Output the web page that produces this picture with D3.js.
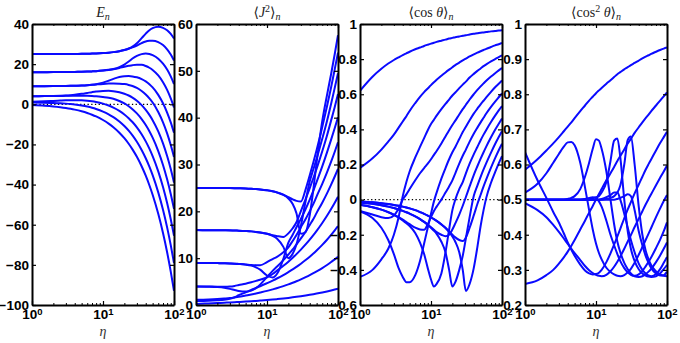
<!DOCTYPE html>
<html><head><meta charset="utf-8">
<script src="https://cdn.jsdelivr.net/npm/d3@7"></script>
<style>body{margin:0;background:#fff}</style>
</head><body>
<svg id="c" width="680" height="343"></svg>
<script>
// ---------- data ----------
const ETA = [1,1.5,2,2.5,3,3.5,4,5,6,7,8,10,12,14,17,20,23,26,30,35,40,45,50,60,70,80,90,100];
const ETA_FINE = [1,1.5,2,2.5,3,3.5,4,4.5,5,6,7,8,9,10,11,12,14,16,18,20,22,25,28,31,35,40,45,50,55,60,70,80,90,100];

// E_n
const E_0 = [-0.38,-0.71,-1.07,-1.45,-1.84,-2.24,-2.65,-3.48,-4.33,-5.19,-6.06,-7.83,-9.61,-11.42,-14.15,-16.9,-19.67,-22.46,-26.19,-30.88,-35.59,-40.32,-45.06,-54.59,-64.15,-73.74,-83.35,-92.94];
const E_1 = [0.92,0.82,0.69,0.52,0.33,0.12,-0.10,-0.60,-1.14,-1.72,-2.33,-3.62,-4.98,-6.39,-8.58,-10.84,-13.15,-15.51,-18.70,-22.77,-26.90,-31.09,-35.32,-43.89,-52.57,-61.34,-70.19,-79.10];
const E_2 = [1.29,1.5,1.69,1.84,1.95,2.01,2.02,1.95,1.76,1.48,1.13,0.32,-0.6,-1.62,-3.27,-5.05,-6.91,-8.84,-11.48,-14.93,-18.48,-22.13,-25.84,-33.45,-41.26,-49.21,-57.29,-65.48];
const E_3 = [4.03,4.07,4.11,4.16,4.21,4.24,4.26,4.25,4.2,4.1,3.96,3.6,3.25,2.75,1.65,0.4,-0.97,-2.44,-4.56,-7.38,-10.35,-13.45,-16.64,-23.29,-30.21,-37.35,-44.66,-52.12];
const E_4 = [4.03,4.07,4.14,4.24,4.37,4.55,4.75,5.21,5.66,6.05,6.35,6.67,6.69,6.51,6.01,5.28,4.38,3.34,1.77,-0.42,-2.81,-5.3,-7.9,-13.5,-19.5,-25.8,-32.3,-39.04];
const E_5 = [9.01,9.03,9.06,9.09,9.13,9.18,9.23,9.36,9.51,9.69,9.87,10.15,10.3,10.33,10.25,10.05,9.65,9.1,8.15,6.6,4.85,2.9,0.87,-3.85,-8.99,-14.48,-20.25,-26.24];
const E_6 = [9.01,9.03,9.06,9.09,9.13,9.18,9.23,9.37,9.54,9.75,10.03,10.8,11.75,12.65,13.6,14.0,14.05,13.9,13.45,12.55,11.4,10.0,8.4,4.7,0.5,-4.1,-9.0,-14.2];
const E_7 = [16.01,16.02,16.03,16.05,16.07,16.1,16.13,16.2,16.29,16.39,16.5,16.79,17.13,17.5,18.1,18.7,19.15,19.5,19.72,19.65,19.07,18.2,17.11,14.35,11.0,7.18,2.97,-1.55];
const E_8 = [16.01,16.02,16.03,16.05,16.07,16.1,16.13,16.2,16.29,16.39,16.5,16.8,17.16,17.61,18.53,19.8,21.3,22.8,24.1,25.0,25.3,25.1,24.5,22.7,20.2,17.3,13.9,10.1];
const E_9 = [25.0,25.01,25.02,25.03,25.05,25.06,25.08,25.13,25.18,25.25,25.32,25.5,25.73,25.99,26.46,27.02,27.65,28.34,29.29,30.5,31.3,31.6,31.7,31.0,29.5,27.4,24.8,21.8];
const E_10 = [25.0,25.01,25.02,25.03,25.05,25.06,25.08,25.13,25.18,25.25,25.32,25.5,25.73,25.99,26.46,27.05,27.8,28.75,30.4,32.95,35.2,36.9,37.95,38.65,38.1,36.85,35.05,32.8];

// <J^2>_n
const J_0 = [0.24,0.34,0.42,0.49,0.545,0.595,0.64,0.725,0.80,0.87,0.935,1.053,1.16,1.258,1.394,1.517,1.632,1.739,1.873,2.028,2.172,2.308,2.436,2.676,2.895,3.099,3.291,3.473];
const J_1 = [1.10,1.18,1.27,1.37,1.47,1.61,1.74,2.02,2.25,2.46,2.66,3.01,3.34,3.63,4.04,4.41,4.76,5.08,5.48,5.95,6.38,6.79,7.18,7.89,8.55,9.17,9.74,10.29];
const J_2 = [0.85,0.9,1.01,1.14,1.35,1.66,2.1,2.7,3.2,3.65,4.01,4.66,5.21,5.71,6.39,7.02,7.59,8.14,8.81,9.59,10.32,11.0,11.65,12.84,13.94,14.97,15.93,16.84];
const J_3 = [3.97,3.94,3.91,3.9,3.94,4.07,4.26,4.55,4.86,5.15,5.4,5.9,6.61,7.4,8.37,9.26,10.1,10.87,11.83,12.93,13.95,14.91,15.81,17.5,19.04,20.48,21.83,23.1];
const J_4 = [3.96,3.91,3.82,3.67,3.44,3.19,2.99,2.86,3.08,3.6,4.35,5.97,7.29,8.26,9.58,10.78,11.86,12.96,14.22,15.65,17.1,18.35,19.67,21.85,23.84,25.7,27.44,29.08];
const J_5 = [8.98,8.97,8.95,8.91,8.87,8.83,8.77,8.66,8.55,8.5,8.49,9.15,9.82,10.33,11.27,12.33,13.68,14.95,16.61,18.36,20.05,21.58,23.19,25.87,28.32,30.6,32.73,34.75];
const J_6 = [8.98,8.97,8.95,8.91,8.87,8.82,8.76,8.62,8.4,8.03,7.55,6.3,5.87,6.77,9.86,13.3,15.0,16.6,18.4,20.5,22.5,24.4,26.3,29.6,32.6,35.3,37.8,40.1];
const J_7 = [15.99,15.98,15.97,15.95,15.93,15.9,15.87,15.8,15.72,15.61,15.48,15.21,14.91,14.7,14.53,15.3,16.39,17.68,20.02,22.63,24.95,27.11,29.11,32.83,36.2,39.42,42.3,45.05];
const J_8 = [15.99,15.98,15.97,15.96,15.95,15.9,15.87,15.8,15.72,15.6,15.47,15.2,14.76,14.11,12.41,10.0,10.95,12.92,16.9,22.2,26.42,28.97,31.25,35.48,39.31,42.98,46.39,49.5];
const J_9 = [24.99,24.99,24.98,24.97,24.96,24.94,24.92,24.88,24.82,24.75,24.67,24.49,24.28,24.01,23.57,23.02,22.54,22.23,22.09,24.7,27.7,30.5,33.1,38.0,42.45,46.5,50.36,53.9];
const J_10 = [24.99,24.99,24.98,24.97,24.96,24.94,24.92,24.88,24.82,24.75,24.67,24.49,24.28,24.0,23.49,22.75,21.57,19.61,15.2,15.6,19.2,24.75,30.45,39.25,44.82,49.33,53.59,57.6];

// <cos theta>_n
const C_0 = [0.62,0.70,0.745,0.775,0.795,0.81,0.823,0.833,0.842,0.856,0.866,0.875,0.882,0.888,0.893,0.898,0.905,0.911,0.917,0.921,0.925,0.929,0.933,0.936,0.94,0.944,0.947,0.95,0.952,0.954,0.958,0.96,0.963,0.965];
const C_1 = [0.18,0.235,0.285,0.33,0.37,0.41,0.445,0.475,0.505,0.55,0.585,0.612,0.633,0.652,0.668,0.682,0.705,0.724,0.74,0.754,0.766,0.78,0.793,0.803,0.815,0.827,0.837,0.845,0.852,0.858,0.869,0.878,0.885,0.892];
const C_2 = [-0.44,-0.40,-0.34,-0.28,-0.2,-0.1,0.02,0.1,0.16,0.24,0.3,0.35,0.395,0.43,0.455,0.478,0.515,0.545,0.57,0.593,0.61,0.635,0.655,0.672,0.695,0.716,0.733,0.747,0.76,0.77,0.787,0.8,0.812,0.822];
const C_3 = [-0.065,-0.085,-0.1,-0.105,-0.09,-0.05,0.0,0.03,0.06,0.11,0.15,0.18,0.205,0.23,0.255,0.277,0.32,0.36,0.395,0.425,0.45,0.485,0.515,0.54,0.57,0.6,0.625,0.645,0.662,0.677,0.701,0.72,0.736,0.75];
const C_4 = [-0.067,-0.105,-0.16,-0.23,-0.31,-0.39,-0.44,-0.47,-0.47,-0.43,-0.35,-0.25,-0.16,-0.08,-0.01,0.04,0.12,0.18,0.23,0.27,0.30,0.345,0.385,0.415,0.452,0.49,0.518,0.543,0.563,0.582,0.614,0.64,0.66,0.678];
const C_5 = [-0.029,-0.043,-0.057,-0.071,-0.086,-0.1,-0.114,-0.128,-0.14,-0.16,-0.17,-0.172,-0.14,-0.1,-0.065,-0.04,0.0,0.04,0.075,0.11,0.15,0.205,0.25,0.285,0.33,0.375,0.41,0.44,0.466,0.49,0.528,0.558,0.583,0.605];
const C_6 = [-0.029,-0.043,-0.057,-0.072,-0.087,-0.102,-0.118,-0.134,-0.15,-0.19,-0.245,-0.31,-0.39,-0.455,-0.495,-0.48,-0.42,-0.3,-0.17,-0.06,0.0,0.06,0.1,0.15,0.205,0.258,0.3,0.338,0.37,0.397,0.442,0.478,0.508,0.533];
const C_7 = [-0.016,-0.024,-0.032,-0.04,-0.048,-0.056,-0.064,-0.072,-0.08,-0.095,-0.111,-0.127,-0.143,-0.158,-0.172,-0.185,-0.2,-0.208,-0.2,-0.17,-0.135,-0.085,-0.035,0.015,0.075,0.14,0.19,0.233,0.27,0.302,0.355,0.398,0.432,0.462];
const C_8 = [-0.016,-0.024,-0.032,-0.04,-0.048,-0.056,-0.064,-0.072,-0.08,-0.095,-0.111,-0.127,-0.143,-0.16,-0.177,-0.195,-0.24,-0.3,-0.4,-0.495,-0.47,-0.4,-0.32,-0.22,-0.1,0.02,0.08,0.13,0.172,0.208,0.268,0.317,0.357,0.39];
const C_9 = [-0.01,-0.015,-0.02,-0.025,-0.03,-0.035,-0.04,-0.045,-0.05,-0.06,-0.071,-0.081,-0.091,-0.101,-0.111,-0.121,-0.141,-0.16,-0.18,-0.2,-0.215,-0.23,-0.236,-0.215,-0.16,-0.09,-0.025,0.028,0.075,0.115,0.182,0.236,0.281,0.318];
const C_10 = [-0.01,-0.015,-0.02,-0.025,-0.03,-0.035,-0.04,-0.045,-0.05,-0.06,-0.071,-0.081,-0.091,-0.101,-0.111,-0.121,-0.142,-0.162,-0.185,-0.21,-0.24,-0.3,-0.4,-0.52,-0.48,-0.39,-0.27,-0.15,-0.06,0.01,0.096,0.156,0.206,0.248];

// <cos^2 theta>_n
const Q_0 = [0.585,0.615,0.64,0.66,0.678,0.694,0.708,0.72,0.732,0.752,0.768,0.782,0.793,0.803,0.811,0.818,0.83,0.84,0.849,0.857,0.863,0.871,0.877,0.883,0.889,0.896,0.902,0.907,0.911,0.915,0.921,0.926,0.93,0.933];
const Q_1 = [0.26,0.27,0.285,0.3,0.318,0.335,0.352,0.369,0.385,0.415,0.44,0.463,0.482,0.5,0.516,0.53,0.555,0.575,0.593,0.61,0.624,0.643,0.66,0.673,0.69,0.706,0.72,0.732,0.742,0.752,0.768,0.782,0.794,0.805];
const Q_2 = [0.635,0.555,0.505,0.465,0.435,0.405,0.378,0.357,0.34,0.315,0.298,0.29,0.287,0.288,0.292,0.3,0.322,0.347,0.372,0.395,0.417,0.447,0.472,0.493,0.518,0.543,0.565,0.585,0.601,0.615,0.64,0.661,0.678,0.693];
const Q_3 = [0.49,0.47,0.45,0.428,0.408,0.39,0.374,0.36,0.348,0.328,0.311,0.299,0.291,0.286,0.283,0.282,0.286,0.296,0.309,0.323,0.338,0.36,0.381,0.399,0.422,0.446,0.467,0.486,0.502,0.516,0.541,0.562,0.58,0.597];
const Q_4 = [0.52,0.545,0.575,0.605,0.63,0.65,0.663,0.664,0.655,0.605,0.535,0.47,0.415,0.375,0.348,0.33,0.306,0.294,0.287,0.283,0.282,0.285,0.293,0.303,0.32,0.343,0.365,0.385,0.403,0.42,0.45,0.475,0.496,0.513];
const Q_5 = [0.5,0.5,0.5,0.5,0.5,0.5,0.5,0.5,0.5,0.5,0.502,0.505,0.507,0.505,0.495,0.48,0.44,0.4,0.37,0.345,0.325,0.305,0.293,0.286,0.283,0.287,0.297,0.31,0.323,0.336,0.362,0.386,0.41,0.435];
const Q_6 = [0.5,0.5,0.5,0.5,0.5,0.5,0.502,0.505,0.51,0.53,0.565,0.605,0.645,0.672,0.668,0.645,0.58,0.5,0.43,0.38,0.35,0.32,0.302,0.29,0.282,0.28,0.282,0.288,0.295,0.303,0.322,0.341,0.36,0.378];
const Q_7 = [0.5,0.5,0.5,0.5,0.5,0.5,0.5,0.5,0.5,0.5,0.5,0.5,0.5,0.5,0.5,0.502,0.507,0.513,0.52,0.52,0.5,0.46,0.42,0.385,0.35,0.318,0.3,0.29,0.284,0.282,0.288,0.302,0.32,0.337];
const Q_8 = [0.5,0.5,0.5,0.5,0.5,0.5,0.5,0.5,0.5,0.5,0.5,0.502,0.504,0.507,0.51,0.52,0.55,0.61,0.668,0.674,0.62,0.5,0.41,0.36,0.325,0.302,0.29,0.284,0.281,0.28,0.282,0.29,0.302,0.314];
const Q_9 = [0.5,0.5,0.5,0.5,0.5,0.5,0.5,0.5,0.5,0.5,0.5,0.5,0.5,0.5,0.5,0.5,0.5,0.5,0.5,0.502,0.505,0.51,0.515,0.51,0.47,0.41,0.37,0.34,0.32,0.305,0.29,0.284,0.285,0.295];
const Q_10 = [0.5,0.5,0.5,0.5,0.5,0.5,0.5,0.5,0.5,0.5,0.5,0.5,0.5,0.5,0.5,0.5,0.502,0.505,0.51,0.52,0.54,0.6,0.67,0.68,0.6,0.48,0.4,0.355,0.33,0.313,0.296,0.287,0.283,0.282];

// axes ticks
const X_TICKS = [1, 10, 100];
const X_MINOR = [2,3,4,5,6,7,8,9,20,30,40,50,60,70,80,90];
const Y_TICKS_E = [-100,-80,-60,-40,-20,0,20,40];
const Y_TICKS_J = [0,10,20,30,40,50,60];
const Y_TICKS_C = [-0.6,-0.4,-0.2,0,0.2,0.4,0.6,0.8,1];
const Y_TICKS_Q = [0.2,0.3,0.4,0.5,0.6,0.7,0.8,0.9,1];

// ---------- drawing ----------
const svg = d3.select("#c");
const W = 142, TOP = 24, BOT = 305;
const LINE_COLOR = "#0a0aff";
const numFmt = d => (d < 0 ? "\u2212" : "") + String(Math.abs(+d.toFixed(2)));

const panels = [
  {left:32,  dom:[-100,40], ticks:Y_TICKS_E, grid:ETA, series:[E_0,E_1,E_2,E_3,E_4,E_5,E_6,E_7,E_8,E_9,E_10], zero:true, title:"E"},
  {left:196, dom:[0,60],    ticks:Y_TICKS_J, grid:ETA, series:[J_0,J_1,J_2,J_3,J_4,J_5,J_6,J_7,J_8,J_9,J_10], zero:false, title:"J"},
  {left:360, dom:[-0.6,1],  ticks:Y_TICKS_C, grid:ETA_FINE, series:[C_0,C_1,C_2,C_3,C_4,C_5,C_6,C_7,C_8,C_9,C_10], zero:true, title:"C"},
  {left:525, dom:[0.2,1],   ticks:Y_TICKS_Q, grid:ETA_FINE, series:[Q_0,Q_1,Q_2,Q_3,Q_4,Q_5,Q_6,Q_7,Q_8,Q_9,Q_10], zero:false, title:"Q"}
];

const defs = svg.append("defs");
const LABEL_FONT = "'Liberation Sans', Arial, sans-serif";
const SERIF = "'Liberation Serif', 'DejaVu Serif', serif";

panels.forEach((p, pi) => {
  const L = p.left;
  const x = d3.scaleLog().domain([1,100]).range([L, L+W]);
  const y = d3.scaleLinear().domain(p.dom).range([BOT, TOP]);
  const g = svg.append("g");

  defs.append("clipPath").attr("id","clip"+pi)
    .append("rect").attr("x",L).attr("y",TOP).attr("width",W).attr("height",BOT-TOP);

  if (p.zero) {
    g.append("line").attr("x1",x(1)).attr("x2",x(100)).attr("y1",y(0)).attr("y2",y(0))
      .attr("stroke","#000").attr("stroke-width",1.3).attr("stroke-dasharray","1.3,2.4");
  }

  const line = d3.line().x((d,i)=>x(p.grid[i])).y(d=>y(d)).curve(d3.curveMonotoneX);
  g.append("g").attr("clip-path","url(#clip"+pi+")")
    .selectAll("path").data(p.series).join("path")
    .attr("d", line).attr("fill","none").attr("stroke",LINE_COLOR)
    .attr("stroke-width",2).attr("stroke-linejoin","round");

  const styleAxis = sel => {
    sel.select(".domain").attr("stroke","#000").attr("stroke-width",2);
    sel.selectAll(".tick line").attr("stroke","#000").attr("stroke-width",1.2);
  };
  const left = g.append("g").attr("transform",`translate(${L},0)`)
    .call(d3.axisLeft(y).tickValues(p.ticks).tickSizeInner(-4).tickSizeOuter(0).tickPadding(3).tickFormat(numFmt));
  styleAxis(left);
  left.attr("font-family",LABEL_FONT).attr("font-size",13.5).attr("font-weight","bold");
  left.selectAll(".tick text").attr("fill","#000");

  const right = g.append("g").attr("transform",`translate(${L+W},0)`)
    .call(d3.axisRight(y).tickValues(p.ticks).tickSizeInner(-4).tickSizeOuter(0).tickFormat(""));
  styleAxis(right);

  const top = g.append("g").attr("transform",`translate(0,${TOP})`)
    .call(d3.axisTop(x).tickValues(X_TICKS).tickSizeInner(-4).tickSizeOuter(0).tickFormat(""));
  styleAxis(top);
  const topMinor = g.append("g").attr("transform",`translate(0,${TOP})`)
    .call(d3.axisTop(x).tickValues(X_MINOR).tickSizeInner(-2).tickSizeOuter(0).tickFormat(""));
  topMinor.select(".domain").remove();
  topMinor.selectAll(".tick line").attr("stroke","#000").attr("stroke-width",1);

  const bottom = g.append("g").attr("transform",`translate(0,${BOT})`)
    .call(d3.axisBottom(x).tickValues(X_TICKS).tickSizeInner(-4).tickSizeOuter(0).tickPadding(4).tickFormat(d => String(Math.round(Math.log10(d)))));
  styleAxis(bottom);
  bottom.attr("font-family",LABEL_FONT).attr("font-size",13.5).attr("font-weight","bold");
  bottom.selectAll(".tick text").each(function(d){
    const t = d3.select(this);
    const e = t.text();
    t.text("").attr("fill","#000");
    t.append("tspan").text("10");
    t.append("tspan").attr("dy","-0.42em").attr("font-size",9.5).text(e);
  });
  const bottomMinor = g.append("g").attr("transform",`translate(0,${BOT})`)
    .call(d3.axisBottom(x).tickValues(X_MINOR).tickSizeInner(-2).tickSizeOuter(0).tickFormat(""));
  bottomMinor.select(".domain").remove();
  bottomMinor.selectAll(".tick line").attr("stroke","#000").attr("stroke-width",1);

  // x label
  g.append("text").attr("x",L+W/2).attr("y",336).attr("text-anchor","middle")
    .attr("font-family",SERIF).attr("font-style","italic").attr("font-size",14).attr("fill","#333").text("η");

  // title
  const t = g.append("text").attr("x",L+W/2).attr("y",17).attr("text-anchor","middle")
    .attr("font-family",SERIF).attr("font-size",14).attr("fill","#222");
  if (p.title === "E") {
    t.append("tspan").attr("font-style","italic").text("E");
    t.append("tspan").attr("font-style","italic").attr("font-size",10).attr("dy",3).text("n");
  } else if (p.title === "J") {
    t.append("tspan").text("⟨");
    t.append("tspan").attr("font-style","italic").text("J");
    t.append("tspan").attr("font-size",10).attr("dy",-5).text("2");
    t.append("tspan").attr("dy",5).text("⟩");
    t.append("tspan").attr("font-style","italic").attr("font-size",10).attr("dy",3).text("n");
  } else if (p.title === "C") {
    t.append("tspan").text("⟨cos ");
    t.append("tspan").attr("font-style","italic").text("θ");
    t.append("tspan").text("⟩");
    t.append("tspan").attr("font-style","italic").attr("font-size",10).attr("dy",3).text("n");
  } else {
    t.append("tspan").text("⟨cos");
    t.append("tspan").attr("font-size",10).attr("dy",-5).text("2");
    t.append("tspan").attr("dy",5).text(" ");
    t.append("tspan").attr("font-style","italic").text("θ");
    t.append("tspan").text("⟩");
    t.append("tspan").attr("font-style","italic").attr("font-size",10).attr("dy",3).text("n");
  }
});
</script>
</body></html>
